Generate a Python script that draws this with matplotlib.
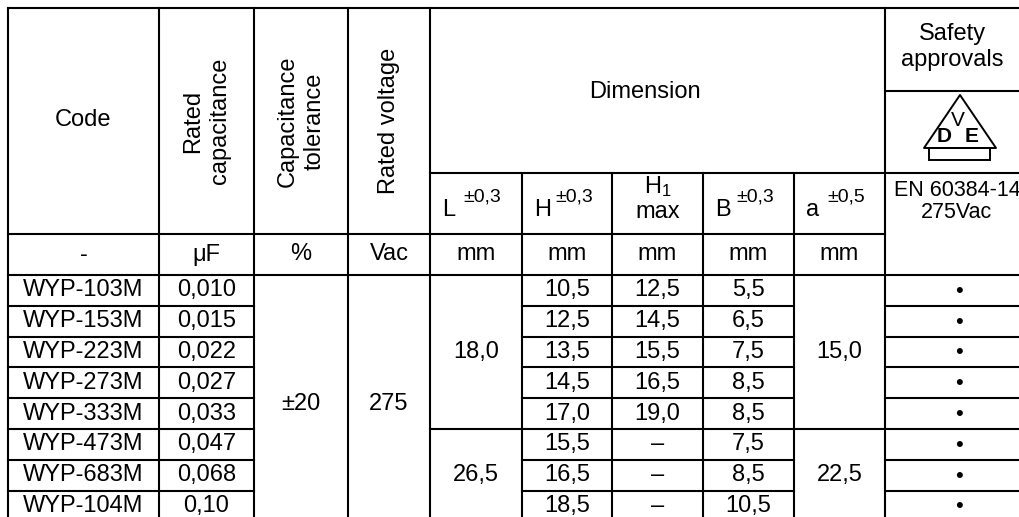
import matplotlib.pyplot as plt
from matplotlib.patches import Polygon, Rectangle

plt.rcParams['font.family'] = ['Liberation Sans', 'DejaVu Sans']
plt.rcParams['mathtext.fontset'] = 'custom'
plt.rcParams['mathtext.rm'] = 'Liberation Sans'
plt.rcParams['mathtext.default'] = 'regular'

# table content
codes = ["WYP-103M", "WYP-153M", "WYP-223M", "WYP-273M",
         "WYP-333M", "WYP-473M", "WYP-683M", "WYP-104M"]
capacitance = ["0,010", "0,015", "0,022", "0,027", "0,033", "0,047", "0,068", "0,10"]
tolerance = "±20"
voltage = "275"
L_groups = [("18,0", 5), ("26,5", 3)]
H_vals = ["10,5", "12,5", "13,5", "14,5", "17,0", "15,5", "16,5", "18,5"]
H1_vals = ["12,5", "14,5", "15,5", "16,5", "19,0", "–", "–", "–"]
B_vals = ["5,5", "6,5", "7,5", "8,5", "8,5", "7,5", "8,5", "10,5"]
a_groups = [("15,0", 5), ("22,5", 3)]
approved = [True] * 8
units = ["-", "μF", "%", "Vac", "mm", "mm", "mm", "mm", "mm"]
dim_heads = [("L", "±0,3"), ("H", "±0,3"), None, ("B", "±0,3"), ("a", "±0,5")]

# grid geometry (pixels)
X = [8, 159, 254, 348, 430, 522, 612, 703, 794, 885, 1035]
y_top, y_saf, y_dim, y_hdr, y_unit = 8, 91, 173, 234, 275
rh = 30.8
n = len(codes)
y_bot = y_unit + n * rh

fig = plt.figure(figsize=(10.19, 5.17), dpi=100)
ax = fig.add_axes([0, 0, 1, 1])
ax.set_xlim(0, 1019)
ax.set_ylim(517, 0)
ax.axis('off')

LW = 1.5
FS = 17


def hl(y, x0, x1):
    ax.plot([x0, x1], [y, y], color='black', lw=LW, solid_capstyle='projecting')


def vl(x, y0, y1):
    ax.plot([x, x], [y0, y1], color='black', lw=LW, solid_capstyle='projecting')


def cx(i):
    return (X[i] + X[i + 1]) / 2


# lines
hl(y_top, X[0], X[10])
hl(y_saf, X[9], X[10])
hl(y_dim, X[4], X[10])
hl(y_hdr, X[0], X[9])
hl(y_unit, X[0], X[10])
for x in X[:5] + [X[9]]:
    vl(x, y_top, y_bot)
for x in X[5:9]:
    vl(x, y_dim, y_bot)
for i in range(1, n):
    y = y_unit + i * rh
    hl(y, X[0], X[2])
    hl(y, X[5], X[8])
    hl(y, X[9], X[10])
    if i == L_groups[0][1]:
        hl(y, X[4], X[5])
        hl(y, X[8], X[9])

# header
ax.text(cx(0), 120, "Code", ha='center', va='center', fontsize=FS)
ax.text(cx(1), 121, "Rated\ncapacitance", ha='center', va='center',
        rotation=90, fontsize=FS, linespacing=1.3)
ax.text(cx(2), 121, "Capacitance\ntolerance", ha='center', va='center',
        rotation=90, fontsize=FS, linespacing=1.3)
ax.text(cx(3), 121, "Rated voltage", ha='center', va='center',
        rotation=90, fontsize=FS)
ax.text(645, 92, "Dimension", ha='center', va='center', fontsize=FS)
ax.text(952, 47, "Safety\napprovals", ha='center', va='center',
        fontsize=FS, linespacing=1.2)

# VDE mark
ax.add_patch(Polygon([(924, 148), (960, 95), (996, 148)], closed=True,
                     fill=False, lw=1.4, joinstyle='round', color='black'))
ax.add_patch(Rectangle((929, 148), 61, 12, fill=False, lw=1.4, color='black'))
ax.text(944, 136, "D", ha='center', va='center', fontsize=15, fontweight='bold')
ax.text(958, 120, "V", ha='center', va='center', fontsize=15)
ax.text(972, 136, "E", ha='center', va='center', fontsize=15, fontweight='bold')

ax.text(957, 191, "EN 60384-14", ha='center', va='center', fontsize=15.5)
ax.text(957, 212, "275Vac", ha='center', va='center', fontsize=15.5)

# dimension sub headers
for k, head in enumerate(dim_heads):
    col = 4 + k
    if head is None:
        ax.text(cx(col), 187, "H$_1$", ha='center', va='center', fontsize=FS)
        ax.text(cx(col), 212, "max", ha='center', va='center', fontsize=FS)
        continue
    ax.text(X[col] + 12, 216, head[0], ha='left', va='baseline', fontsize=FS)
    ax.text(X[col] + 33, 202, head[1], ha='left', va='baseline', fontsize=14)

# units row
for k, u in enumerate(units):
    ax.text(cx(k), (y_hdr + y_unit) / 2, u, ha='center', va='center', fontsize=FS)

# body
for i in range(n):
    yc = y_unit + (i + 0.5) * rh
    ax.text(cx(0), yc, codes[i], ha='center', va='center', fontsize=FS)
    ax.text(cx(1), yc, capacitance[i], ha='center', va='center', fontsize=FS)
    ax.text(cx(5), yc, H_vals[i], ha='center', va='center', fontsize=FS)
    ax.text(cx(6), yc, H1_vals[i], ha='center', va='center', fontsize=FS)
    ax.text(cx(7), yc, B_vals[i], ha='center', va='center', fontsize=FS)
    if approved[i]:
        ax.text(959, yc + 1, "•", ha='center', va='center', fontsize=16)

ax.text(cx(2), 404, tolerance, ha='center', va='center', fontsize=FS)
ax.text(cx(3), 404, voltage, ha='center', va='center', fontsize=FS)

start = 0
for (lv, cnt), (av, _) in zip(L_groups, a_groups):
    yc = y_unit + (start + cnt / 2) * rh
    ax.text(cx(4), yc, lv, ha='center', va='center', fontsize=FS)
    ax.text(cx(8), yc, av, ha='center', va='center', fontsize=FS)
    start += cnt

fig.savefig("out.png", dpi=100)
